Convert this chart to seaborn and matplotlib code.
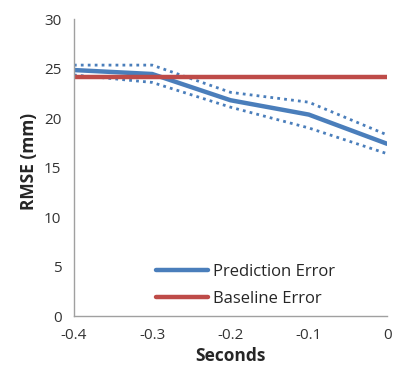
import matplotlib
matplotlib.use("Agg")
import matplotlib.pyplot as plt
import seaborn as sns
import pandas as pd

seconds = [-0.4, -0.3, -0.2, -0.1, 0.0]
prediction = [24.85, 24.45, 21.8, 20.35, 17.4]
pred_upper = [25.35, 25.35, 22.6, 21.6, 18.3]
pred_lower = [24.35, 23.6, 21.1, 19.0, 16.4]
baseline = [24.1, 24.1, 24.1, 24.1, 24.1]

sns.set_style("white")
plt.rcParams['font.family'] = ['Open Sans', 'DejaVu Sans']

df = pd.DataFrame({"Seconds": seconds, "pred": prediction, "up": pred_upper,
                   "lo": pred_lower, "base": baseline})

fig = plt.figure(figsize=(3.93, 3.74), dpi=100)
ax = fig.add_axes([0.188, 0.155, 0.797, 0.794])

blue = "#4a7ebb"
red = "#be4b48"
sns.lineplot(data=df, x="Seconds", y="up", ax=ax, color=blue, lw=2, ls=(0, (1, 1.5)))
sns.lineplot(data=df, x="Seconds", y="lo", ax=ax, color=blue, lw=2, ls=(0, (1, 1.5)))
sns.lineplot(data=df, x="Seconds", y="pred", ax=ax, color=blue, lw=3.2, label="Prediction Error")
sns.lineplot(data=df, x="Seconds", y="base", ax=ax, color=red, lw=3.2, label="Baseline Error")

ax.set_xlim(-0.4, 0)
ax.set_ylim(0, 30)
ax.set_xticks(seconds)
ax.set_xticklabels(["-0.4", "-0.3", "-0.2", "-0.1", "0"])
ax.set_yticks([0, 5, 10, 15, 20, 25, 30])
for s in ["top", "right"]:
    ax.spines[s].set_visible(False)
for s in ["left", "bottom"]:
    ax.spines[s].set_color("#a0a0a0")
    ax.spines[s].set_linewidth(1)
ax.tick_params(axis="both", direction="out", length=5, color="#a0a0a0",
               labelsize=11, labelcolor="#333333", width=1)
ax.tick_params(axis="y", pad=4)
ax.set_xlabel("Seconds", fontsize=12.5, fontweight="bold", labelpad=3)
ax.set_ylabel("RMSE (mm)", fontsize=12.5, fontweight="bold", labelpad=2)
ax.yaxis.set_label_coords(-0.115, 0.52)

leg = ax.legend(loc="lower left", bbox_to_anchor=(0.215, -0.02), frameon=False,
                fontsize=12, handlelength=3.1, handletextpad=0.3, labelspacing=0.65)

fig.savefig("out.png", dpi=100)
